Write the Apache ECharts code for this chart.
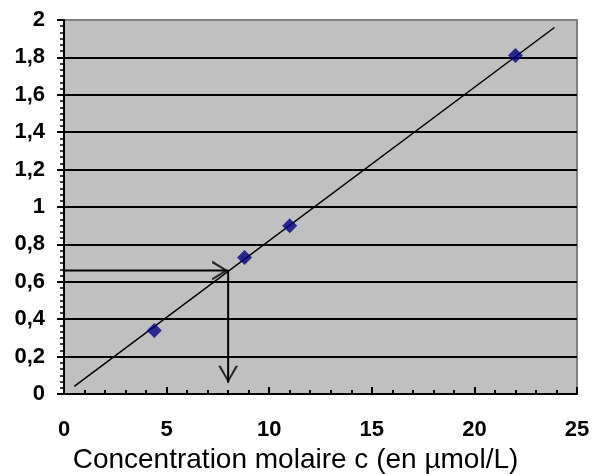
<!DOCTYPE html>
<html>
<head>
<meta charset="utf-8">
<script src="https://cdn.jsdelivr.net/npm/echarts@6/dist/echarts.min.js"></script>
<style>html,body{margin:0;padding:0;background:#fff}#c{width:592px;height:474px}</style>
</head>
<body>
<div id="c"></div>
<script>
// Data
var concentrations = [4.4, 8.8, 11.0, 22.0];
var absorbances = [0.34, 0.73, 0.90, 1.81];
var trendX = [0.5, 23.9];
var trendY = [0.041, 1.96];
var readX = [0, 8.0, 8.0];
var readY = [0.66, 0.66, 0.06];
var yTicks = [0, 0.2, 0.4, 0.6, 0.8, 1, 1.2, 1.4, 1.6, 1.8, 2];
var xTicks = [0, 5, 10, 15, 20, 25];
var xTitle = 'Concentration molaire c (en µmol/L)';

var FONT = 'Arial, "Liberation Sans", sans-serif';
var chevronRight = 'path://M0,0 L16,10 L0,20 L0,17.4 L12.4,10 L0,2.6 Z';
var chevronDown = 'path://M0,0 L10,17 L20,0 L17.4,0 L10,13.4 L2.6,0 Z';

var splitColors = yTicks.map(function (v, i) { return i === yTicks.length - 1 ? '#808080' : '#000000'; });

var chart = echarts.init(document.getElementById('c'), null, {renderer: 'canvas'});
chart.setOption({
  backgroundColor: '#ffffff',
  animation: false,
  grid: {
    left: 64, right: 15, top: 20, bottom: 80,
    outerBoundsMode: 'none', containLabel: false,
    show: true, backgroundColor: '#C0C0C0', borderColor: '#808080', borderWidth: 2
  },
  xAxis: {
    type: 'value',
    min: xTicks[0], max: xTicks[xTicks.length - 1], interval: 5,
    name: xTitle, nameLocation: 'middle', nameGap: 52,
    nameTextStyle: {fontFamily: FONT, fontSize: 28, color: '#000', padding: [0, 50, 0, 0]},
    axisLine: {show: true, onZero: false, lineStyle: {color: '#000', width: 2}},
    axisTick: {show: true, inside: true, length: 7, lineStyle: {color: '#000', width: 2}},
    minorTick: {show: true, splitNumber: 5, length: 4, lineStyle: {color: '#000', width: 2}},
    splitLine: {show: false},
    axisLabel: {fontFamily: FONT, fontSize: 22, fontWeight: 'bold', color: '#000', margin: 25, showMaxLabel: true, showMinLabel: true}
  },
  yAxis: {
    type: 'value',
    min: yTicks[0], max: yTicks[yTicks.length - 1], interval: 0.2,
    axisLine: {show: true, onZero: false, lineStyle: {color: '#000', width: 2}},
    axisTick: {show: true, inside: false, length: 7, lineStyle: {color: '#000', width: 2}},
    minorTick: {show: true, splitNumber: 6, length: 4, lineStyle: {color: '#000', width: 1.5}},
    splitLine: {show: true, lineStyle: {color: splitColors, width: 2}},
    axisLabel: {
      fontFamily: FONT, fontSize: 22, fontWeight: 'bold', color: '#000', margin: 19,
      formatter: function (v) { return String(Math.round(v * 10) / 10).replace('.', ','); }
    }
  },
  series: [
    {
      type: 'line', data: trendX.map(function (x, i) { return [x, trendY[i]]; }),
      symbol: 'none', lineStyle: {color: '#000', width: 1.5}, z: 3
    },
    {
      type: 'line', data: readX.map(function (x, i) { return [x, readY[i]]; }),
      symbol: 'none', lineStyle: {color: '#000', width: 2}, z: 3
    },
    {
      type: 'scatter', data: [[readX[1], readY[1]]],
      symbol: chevronRight, symbolSize: [16, 20], symbolOffset: [-8, 0],
      itemStyle: {color: '#000'}, z: 4
    },
    {
      type: 'scatter', data: [[readX[2], readY[2]]],
      symbol: chevronDown, symbolSize: [20, 17], symbolOffset: [0, -8.5],
      itemStyle: {color: '#000'}, z: 4
    },
    {
      type: 'scatter', data: concentrations.map(function (x, i) { return [x, absorbances[i]]; }),
      symbol: 'diamond', symbolSize: 15, itemStyle: {color: '#000080'}, z: 5
    }
  ]
});
</script>
</body>
</html>
